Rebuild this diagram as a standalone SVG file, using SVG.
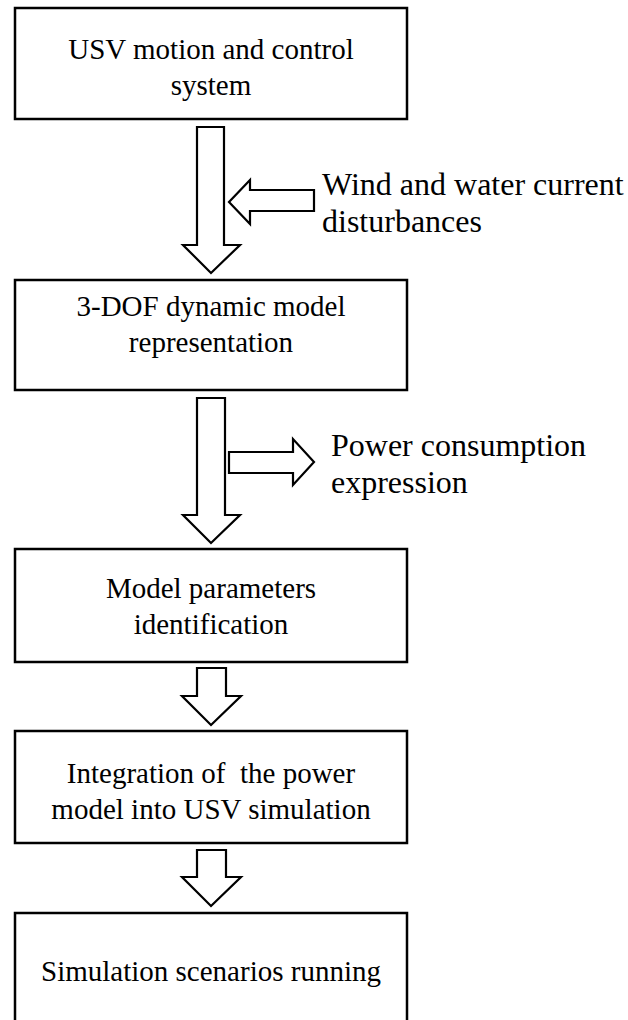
<svg xmlns="http://www.w3.org/2000/svg" width="628" height="1020" viewBox="0 0 628 1020">
  <style>
    .box { fill: #ffffff; stroke: #000000; stroke-width: 2.5; }
    .arrow { fill: #ffffff; stroke: #000000; stroke-width: 2.2; stroke-linejoin: miter; }
    .label { font-family: "Liberation Serif", "Times New Roman", serif; font-size: 29px; fill: #000000; text-anchor: middle; }
    .side { font-family: "Liberation Serif", "Times New Roman", serif; font-size: 32px; fill: #000000; }
  </style>
  <rect width="628" height="1020" fill="#ffffff"/>

  <!-- block arrows between the process steps -->
  <g id="connectors">
    <polygon class="arrow" points="197,127 224,127 224,245 240,245 211,273 183,245 197,245"/>
    <polygon class="arrow" points="314,190 314,211 250,211 250,224 229,202 250,180 250,190"/>
    <polygon class="arrow" points="197,398 225,398 225,515 240,515 211,543 183,515 197,515"/>
    <polygon class="arrow" points="229,452 293,452 293,439 314,462 293,485 293,473 229,473"/>
    <polygon class="arrow" points="197,668 226,668 226,696 241,696 211,725 182,696 197,696"/>
    <polygon class="arrow" points="197,850 226,850 226,877 241,877 211,906 182,877 197,877"/>
  </g>

  <g id="node-usv-system">
    <rect class="box" x="15" y="8" width="392" height="111"/>
    <text class="label" x="211" y="59">USV motion and control</text>
    <text class="label" x="211" y="95">system</text>
  </g>

  <g id="node-disturbances">
    <text class="side" x="322" y="195">Wind and water current</text>
    <text class="side" x="322" y="232">disturbances</text>
  </g>

  <g id="node-dynamic-model">
    <rect class="box" x="15" y="280" width="392" height="110"/>
    <text class="label" x="211" y="316">3-DOF dynamic model</text>
    <text class="label" x="211" y="352">representation</text>
  </g>

  <g id="node-power-expression">
    <text class="side" x="331" y="456">Power consumption</text>
    <text class="side" x="331" y="493">expression</text>
  </g>

  <g id="node-identification">
    <rect class="box" x="15" y="549" width="392" height="113"/>
    <text class="label" x="211" y="598">Model parameters</text>
    <text class="label" x="211" y="634">identification</text>
  </g>

  <g id="node-integration">
    <rect class="box" x="15" y="731" width="392" height="112"/>
    <text class="label" x="211" y="783" xml:space="preserve">Integration of  the power</text>
    <text class="label" x="211" y="819">model into USV simulation</text>
  </g>

  <g id="node-scenarios">
    <rect class="box" x="15" y="913" width="392" height="120"/>
    <text class="label" x="211" y="981">Simulation scenarios running</text>
  </g>
</svg>
